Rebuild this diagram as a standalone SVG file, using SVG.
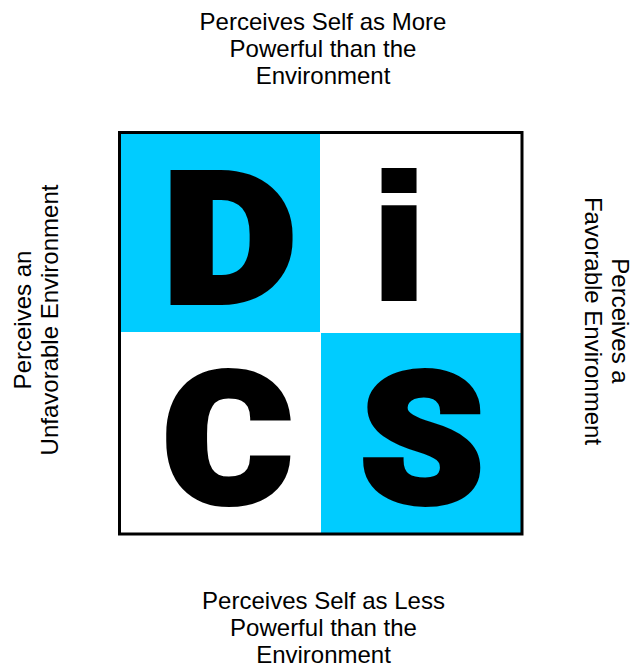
<svg xmlns="http://www.w3.org/2000/svg" width="633" height="668" viewBox="0 0 633 668">
<style>
.lbl{font-family:"Liberation Sans",Arial,sans-serif;font-size:24px;fill:#000;text-anchor:middle}
.big{font-family:Roboto,"Liberation Sans",sans-serif;font-weight:900;font-size:181px;fill:#000;stroke:#000;stroke-width:6;stroke-linejoin:miter;text-anchor:middle}
.bi{font-family:"DejaVu Sans",sans-serif;font-weight:700;font-size:174px;fill:#000;text-anchor:middle}
.cy{fill:#00CCFF}
</style>
<rect width="633" height="668" fill="#fff"/>
<g id="quad-D">
<rect class="cy" x="120" y="133" width="200" height="199"/>
<text class="big" transform="translate(229.5,301.5) scale(1.14,1)">D</text>
</g>
<g id="quad-i">
<text class="bi" transform="translate(399,301) scale(1.15,1)">i</text>
</g>
<g id="quad-C">
<text class="big" transform="translate(227.5,502) scale(1.09,1)">C</text>
</g>
<g id="quad-S">
<rect class="cy" x="321" y="333" width="200" height="200"/>
<text class="big" transform="translate(422,502) scale(1.09,1)">S</text>
</g>
<rect x="119.5" y="132.5" width="402.5" height="401.5" fill="none" stroke="#000" stroke-width="3"/>
<g id="label-top">
<text class="lbl" x="323" y="30">Perceives Self as More</text>
<text class="lbl" x="323" y="57">Powerful than the</text>
<text class="lbl" x="323" y="84">Environment</text>
</g>
<g id="label-bottom">
<text class="lbl" x="323.5" y="609">Perceives Self as Less</text>
<text class="lbl" x="323.5" y="636">Powerful than the</text>
<text class="lbl" x="323.5" y="663">Environment</text>
</g>
<g id="label-left" transform="translate(0,320) rotate(-90)">
<text class="lbl" x="0" y="31">Perceives an</text>
<text class="lbl" x="0" y="58">Unfavorable Environment</text>
</g>
<g id="label-right" transform="translate(633,321) rotate(90)">
<text class="lbl" x="0" y="21">Perceives a</text>
<text class="lbl" x="0" y="48">Favorable Environment</text>
</g>
</svg>
